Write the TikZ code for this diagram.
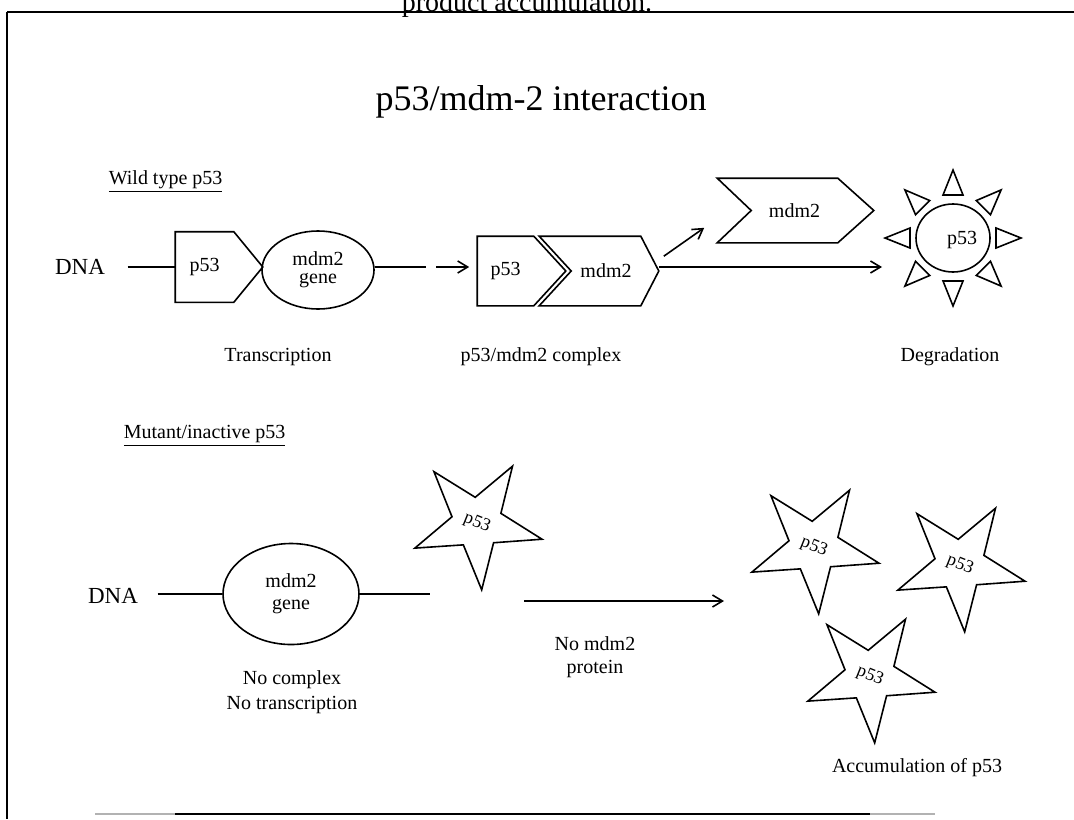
\documentclass[tikz,border=0pt]{standalone}
\usepackage{fontspec}
\setmainfont{Liberation Serif}
\usetikzlibrary{calc,arrows.meta,shapes.geometric}

\begin{document}
\begin{tikzpicture}[
  % one unit = one pixel of the page, y runs down
  x=0.5pt, y=-0.5pt,
  line width=0.8pt,
  lbl/.style={font=\fontsize{10}{12}\selectfont, align=center, inner sep=0pt},
  dnalbl/.style={font=\fontsize{11.5}{13}\selectfont, inner sep=0pt},
  box/.style={rectangle, inner sep=0pt, font=\fontsize{10}{12}\selectfont},
  gene/.style={ellipse, draw, inner sep=0pt, align=center},
  p53star/.style={
    star, star points=5, star point ratio=2.6, draw,
    minimum size=67pt, inner sep=0pt,
    rotate=-22, shape border rotate=-10,
    font=\fontsize{9}{10}\selectfont
  },
  arr/.style={-{Straight Barb[length=5pt,width=6pt]}},
]
\useasboundingbox (0,0) rectangle (1074,819);

% --- Page frame ---
\draw[line width=1pt] (7,12) -- (1074,12);
\draw[line width=1pt] (7,12) -- (7,819);
\draw[gray!60] (95,814) -- (175,814);
\draw (175,814) -- (870,814);
\draw[gray!60] (870,814) -- (935,814);
\node[font=\fontsize{14}{16}\selectfont, anchor=base] (cutnote) at (527,11) {product accumulation.};

% --- Title ---
\node[font=\fontsize{18}{20}\selectfont, anchor=base] (title) at (541,110) {p53/mdm-2 interaction};

% --- Wild type p53 ---
\node[lbl, anchor=base west] (wild) at (108,184) {\underline{Wild type p53}};

\node[dnalbl] (dna1) at (80,267) {DNA};
\node[box, minimum width=28.5pt, minimum height=34.5pt] (p53a) at (204.5,267) {p53};
\draw (p53a.north west) -- (p53a.north east) -- ([xshift=14.5pt]p53a.east)
  -- (p53a.south east) -- (p53a.south west) -- cycle;
\node[gene, minimum width=56pt, minimum height=39pt, font=\fontsize{10}{9}\selectfont]
  (gene1) at (318,270) {mdm2\\gene};
\draw[shorten <=11pt] (dna1.east) -- (p53a.west);

% p53/mdm2 complex
\node[box, minimum width=27.5pt, minimum height=34pt] (p53b) at (505.5,271) {p53};
\draw (p53b.north west) -- (p53b.north east) -- ([xshift=16pt]p53b.east)
  -- (p53b.south east) -- (p53b.south west) -- cycle;
\node[box, minimum width=34pt, minimum height=34pt] (mdm2b) at (606,271) {mdm2};
\draw ([xshift=-16pt]mdm2b.north west) -- (mdm2b.north east) -- ([xshift=9pt]mdm2b.east)
  -- (mdm2b.south east) -- ([xshift=-16pt]mdm2b.south west) -- (mdm2b.west) -- cycle;

\coordinate (gap1) at (426,267);
\coordinate (gap2) at (436,267);
\draw (gene1.east |- gap1) -- (gap1);
\draw[arr, shorten >=4pt] (gap2) -- (gap2 -| p53b.west);

% free mdm2
\node[box, minimum width=42.5pt, minimum height=31.5pt] (mdm2c) at (794.5,210.5) {mdm2};
\draw ([xshift=-17pt]mdm2c.north west) -- (mdm2c.north east) -- ([xshift=18pt]mdm2c.east)
  -- (mdm2c.south east) -- ([xshift=-17pt]mdm2c.south west) -- (mdm2c.west) -- cycle;
\draw[arr] ([xshift=11.5pt,yshift=-10pt]mdm2b.north east)
  -- ([xshift=-23.5pt,yshift=7.5pt]mdm2c.south west);

% degradation
\node[ellipse, draw, minimum width=37pt, minimum height=34pt, inner sep=0pt] (sun) at (953,238) {};
\node[lbl] (sunlbl) at (962,240) {p53};
\foreach \a in {0,45,...,315}
  \draw ($(sun.center)+(\a:43)+(\a+90:10)$) -- ($(sun.center)+(\a:68)$)
    -- ($(sun.center)+(\a:43)+(\a-90:10)$) -- cycle;
\coordinate (degin) at (882,267);
\draw[arr] ([xshift=9pt]mdm2b.east |- degin) -- (degin);

\node[lbl] (transcr) at (278,357) {Transcription};
\node[lbl] (cplx) at (541,357) {p53/mdm2 complex};
\node[lbl] (degr) at (950,357) {Degradation};

% --- Mutant/inactive p53 ---
\node[lbl, anchor=base west] (mutant) at (123,438) {\underline{Mutant/inactive p53}};

\node[dnalbl] (dna2) at (113,596) {DNA};
\node[gene, minimum width=68pt, minimum height=50.5pt, font=\fontsize{10}{11}\selectfont]
  (gene2) at (291,594) {mdm2\\gene};
\draw[shorten <=9.5pt] (dna2.east |- gene2.west) -- (gene2.west);
\coordinate (dnaend) at (430,594);
\draw (gene2.east) -- (dnaend);

\node[p53star] (star1) at (477,523) {p53};

\coordinate (noprot) at (524,601);
\coordinate (accin) at (724,601);
\draw[arr] (noprot) -- (accin);
\node[lbl, font=\fontsize{10}{11.5}\selectfont] (nomdm) at (595,657) {No mdm2\\protein};
\node[lbl, font=\fontsize{10}{12.5}\selectfont] (nocplx) at (292,692) {No complex\\No transcription};

\foreach \n/\px/\py in {2/814/547, 3/960/565, 4/870/676}
  \node[p53star] (star\n) at (\px,\py) {p53};

\node[lbl] (accum) at (917,768) {Accumulation of p53};

\end{tikzpicture}
\end{document}
